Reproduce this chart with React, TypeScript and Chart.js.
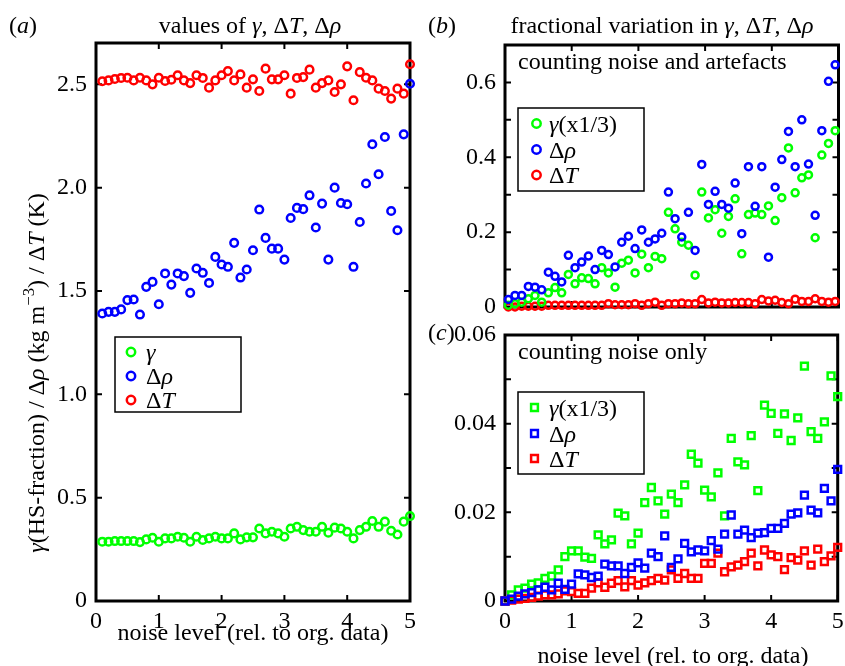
import React, { useEffect, useRef } from "react";
import { Chart, registerables } from "chart.js";
Chart.register(...registerables);

const FONT = "'Liberation Serif', 'Times New Roman', serif";
const GREEN = "#00ff00";
const BLUE = "#0000ff";
const RED = "#ff0000";

// ---------- Panel (a): values ----------
const noiseA = [0.1, 0.2, 0.3, 0.4, 0.5, 0.6, 0.7, 0.8, 0.9, 1.0, 1.1, 1.2, 1.3, 1.4, 1.5, 1.6, 1.7, 1.8, 1.9, 2.0, 2.1, 2.2, 2.3, 2.4, 2.5, 2.6, 2.7, 2.8, 2.9, 3.0, 3.1, 3.2, 3.3, 3.4, 3.5, 3.6, 3.7, 3.8, 3.9, 4.0, 4.1, 4.2, 4.3, 4.4, 4.5, 4.6, 4.7, 4.8, 4.9, 5.0];
const gammaA = [0.287, 0.287, 0.29, 0.29, 0.29, 0.29, 0.285, 0.298, 0.306, 0.287, 0.303, 0.303, 0.311, 0.306, 0.287, 0.311, 0.295, 0.303, 0.311, 0.303, 0.303, 0.327, 0.298, 0.308, 0.308, 0.351, 0.327, 0.335, 0.327, 0.311, 0.351, 0.359, 0.343, 0.335, 0.335, 0.359, 0.33, 0.355, 0.351, 0.335, 0.303, 0.343, 0.359, 0.387, 0.359, 0.384, 0.34, 0.322, 0.384, 0.411];
const drhoA = [1.391, 1.399, 1.399, 1.411, 1.456, 1.459, 1.386, 1.52, 1.544, 1.436, 1.585, 1.531, 1.585, 1.572, 1.491, 1.609, 1.588, 1.539, 1.665, 1.628, 1.617, 1.733, 1.565, 1.604, 1.697, 1.894, 1.757, 1.705, 1.705, 1.652, 1.853, 1.902, 1.896, 1.963, 1.807, 1.923, 1.652, 2.0, 1.926, 1.92, 1.617, 1.834, 2.02, 2.21, 2.065, 2.245, 1.887, 1.794, 2.258, 2.503];
const dTA = [2.515, 2.519, 2.526, 2.531, 2.532, 2.519, 2.532, 2.519, 2.5, 2.532, 2.516, 2.522, 2.544, 2.519, 2.506, 2.544, 2.531, 2.484, 2.519, 2.544, 2.564, 2.519, 2.548, 2.484, 2.524, 2.468, 2.576, 2.524, 2.524, 2.544, 2.455, 2.531, 2.535, 2.571, 2.484, 2.506, 2.519, 2.463, 2.5, 2.587, 2.423, 2.559, 2.532, 2.519, 2.479, 2.468, 2.431, 2.479, 2.455, 2.597];

// ---------- Panel (b): counting noise and artefacts ----------
const noiseB = [0.05, 0.15, 0.25, 0.35, 0.45, 0.55, 0.65, 0.75, 0.85, 0.95, 1.05, 1.15, 1.25, 1.35, 1.45, 1.55, 1.65, 1.75, 1.85, 1.95, 2.05, 2.15, 2.25, 2.35, 2.45, 2.55, 2.65, 2.75, 2.85, 2.95, 3.05, 3.15, 3.25, 3.35, 3.45, 3.55, 3.65, 3.75, 3.85, 3.95, 4.05, 4.15, 4.25, 4.35, 4.45, 4.55, 4.65, 4.75, 4.85, 4.95];
const gammaB = [0.005, 0.009, 0.013, 0.022, 0.031, 0.013, 0.038, 0.052, 0.038, 0.087, 0.062, 0.078, 0.076, 0.062, 0.105, 0.091, 0.053, 0.117, 0.125, 0.091, 0.141, 0.105, 0.135, 0.129, 0.253, 0.209, 0.173, 0.165, 0.085, 0.307, 0.238, 0.26, 0.197, 0.242, 0.289, 0.142, 0.247, 0.251, 0.247, 0.27, 0.231, 0.292, 0.425, 0.305, 0.345, 0.353, 0.185, 0.406, 0.437, 0.471];
const drhoB = [0.02, 0.031, 0.031, 0.055, 0.053, 0.046, 0.093, 0.082, 0.067, 0.138, 0.105, 0.12, 0.136, 0.1, 0.151, 0.14, 0.107, 0.173, 0.189, 0.156, 0.206, 0.173, 0.182, 0.197, 0.307, 0.236, 0.187, 0.253, 0.151, 0.381, 0.274, 0.309, 0.274, 0.264, 0.331, 0.196, 0.375, 0.269, 0.375, 0.133, 0.32, 0.394, 0.469, 0.375, 0.5, 0.382, 0.245, 0.471, 0.603, 0.647];
const dTB = [0.0, 0.0, 0.002, 0.002, 0.002, 0.002, 0.0045, 0.0045, 0.0045, 0.0045, 0.0045, 0.0045, 0.0045, 0.0045, 0.0045, 0.009, 0.006, 0.006, 0.006, 0.009, 0.0045, 0.009, 0.013, 0.0045, 0.009, 0.009, 0.011, 0.009, 0.009, 0.02, 0.011, 0.013, 0.011, 0.011, 0.012, 0.012, 0.012, 0.009, 0.02, 0.016, 0.018, 0.012, 0.009, 0.021, 0.015, 0.015, 0.022, 0.015, 0.013, 0.015];

// ---------- Panel (c): counting noise only ----------
const noiseC = [0, 0.1, 0.2, 0.3, 0.4, 0.5, 0.6, 0.7, 0.8, 0.9, 1.0, 1.1, 1.2, 1.3, 1.4, 1.5, 1.6, 1.7, 1.8, 1.9, 2.0, 2.1, 2.2, 2.3, 2.4, 2.5, 2.6, 2.7, 2.8, 2.9, 3.0, 3.1, 3.2, 3.3, 3.4, 3.5, 3.6, 3.7, 3.8, 3.9, 4.0, 4.1, 4.2, 4.3, 4.4, 4.5, 4.6, 4.7, 4.8, 4.9, 5.0];
const gammaC = [0, 0.0014, 0.0025, 0.0029, 0.0038, 0.0041, 0.0051, 0.0056, 0.007, 0.01, 0.0113, 0.0113, 0.0099, 0.0096, 0.0149, 0.0129, 0.0138, 0.0198, 0.0192, 0.0129, 0.0153, 0.0222, 0.0256, 0.0226, 0.0196, 0.0241, 0.0222, 0.0262, 0.0331, 0.0311, 0.025, 0.0235, 0.0289, 0.0192, 0.0367, 0.0314, 0.0307, 0.0373, 0.0249, 0.0442, 0.0423, 0.0378, 0.0422, 0.0362, 0.0413, 0.053, 0.0382, 0.0367, 0.0404, 0.0508, 0.0461];
const drhoC = [0, 0.0004, 0.0011, 0.0016, 0.0019, 0.0025, 0.0031, 0.0025, 0.004, 0.0026, 0.0038, 0.0061, 0.0059, 0.0053, 0.0056, 0.0083, 0.0079, 0.0079, 0.0062, 0.0076, 0.0086, 0.0074, 0.0108, 0.01, 0.0147, 0.0076, 0.0095, 0.013, 0.0111, 0.0115, 0.0113, 0.0136, 0.0117, 0.0151, 0.0194, 0.0151, 0.016, 0.0143, 0.0153, 0.0154, 0.0164, 0.0164, 0.0175, 0.0196, 0.0199, 0.0239, 0.0205, 0.0199, 0.0254, 0.0226, 0.0297];
const dTC = [0, 0.0002, 0.0004, 0.0006, 0.0008, 0.0011, 0.0014, 0.0014, 0.0016, 0.0023, 0.0021, 0.0017, 0.0017, 0.0029, 0.0041, 0.0031, 0.004, 0.0046, 0.0032, 0.0046, 0.0036, 0.0041, 0.0046, 0.0051, 0.0047, 0.007, 0.0051, 0.0062, 0.0051, 0.0051, 0.0085, 0.0085, 0.0108, 0.0066, 0.0077, 0.0081, 0.0089, 0.0108, 0.0079, 0.0115, 0.0104, 0.01, 0.0071, 0.0098, 0.0092, 0.0113, 0.0081, 0.0117, 0.0089, 0.0102, 0.0121];

type Seg = { t: string; i?: boolean; sup?: boolean };

const fontStr = (size: number, italic?: boolean) => `${italic ? "italic " : ""}${size}px ${FONT}`;

function richWidth(ctx: CanvasRenderingContext2D, segs: Seg[], size: number) {
  let w = 0;
  for (const s of segs) {
    ctx.font = fontStr(s.sup ? size * 0.7 : size, s.i);
    w += ctx.measureText(s.t).width;
  }
  return w;
}

function drawRich(ctx: CanvasRenderingContext2D, segs: Seg[], x: number, y: number, size: number, align: "left" | "center" | "right") {
  const w = richWidth(ctx, segs, size);
  let cx = align === "left" ? x : align === "center" ? x - w / 2 : x - w;
  ctx.textAlign = "left";
  ctx.textBaseline = "alphabetic";
  ctx.fillStyle = "#000";
  for (const s of segs) {
    const sz = s.sup ? size * 0.7 : size;
    ctx.font = fontStr(sz, s.i);
    ctx.fillText(s.t, cx, s.sup ? y - size * 0.4 : y);
    cx += ctx.measureText(s.t).width;
  }
}

const gTD: Seg[] = [{ t: "γ", i: true }, { t: ", Δ" }, { t: "T", i: true }, { t: ", Δ" }, { t: "ρ", i: true }];

type TextItem = { segs: Seg[]; x: number; y: number; size: number; align: "left" | "center" | "right"; rot?: boolean };
type LegendItem = { label: Seg[]; color: string };
type LegendBox = { x: number; y: number; w: number; h: number; rows: number[]; mx: number; tx: number; style: "circle" | "rect"; items: LegendItem[] };

function decoPlugin(texts: TextItem[], legend: LegendBox, markerR: number) {
  return {
    id: "deco",
    beforeDatasetsDraw(chart: any) {
      const { ctx, chartArea: a, scales } = chart;
      const xs = scales.x;
      const ys = scales.y;
      const TL = 6;
      ctx.save();
      ctx.strokeStyle = "#000";
      ctx.lineWidth = 2;
      ctx.beginPath();
      for (const t of xs.ticks) {
        const p = xs.getPixelForValue(t.value);
        ctx.moveTo(p, a.bottom);
        ctx.lineTo(p, a.bottom - TL);
        ctx.moveTo(p, a.top);
        ctx.lineTo(p, a.top + TL);
      }
      for (const t of ys.ticks) {
        const p = ys.getPixelForValue(t.value);
        ctx.moveTo(a.left, p);
        ctx.lineTo(a.left + TL, p);
        ctx.moveTo(a.right, p);
        ctx.lineTo(a.right - TL, p);
      }
      ctx.stroke();
      ctx.lineWidth = 3;
      ctx.strokeRect(a.left, a.top, a.right - a.left, a.bottom - a.top);
      ctx.restore();
    },
    afterDatasetsDraw(chart: any) {
      const { ctx } = chart;
      ctx.save();
      const L = legend;
      ctx.fillStyle = "#fff";
      ctx.fillRect(L.x, L.y, L.w, L.h);
      ctx.strokeStyle = "#000";
      ctx.lineWidth = 1.5;
      ctx.strokeRect(L.x, L.y, L.w, L.h);
      L.items.forEach((it, k) => {
        const cy = L.rows[k];
        ctx.strokeStyle = it.color;
        ctx.lineWidth = 2.5;
        ctx.beginPath();
        if (L.style === "circle") {
          ctx.arc(L.mx, cy, markerR, 0, Math.PI * 2);
        } else {
          const s = markerR * Math.SQRT1_2;
          ctx.rect(L.mx - s, cy - s, 2 * s, 2 * s);
        }
        ctx.stroke();
        drawRich(ctx, it.label, L.tx, cy + 8, 24, "left");
      });
      ctx.restore();
    },
    afterDraw(chart: any) {
      const { ctx } = chart;
      ctx.save();
      for (const t of texts) {
        if (t.rot) {
          ctx.save();
          ctx.translate(t.x, t.y);
          ctx.rotate(-Math.PI / 2);
          drawRich(ctx, t.segs, 0, 0, t.size, t.align);
          ctx.restore();
        } else {
          drawRich(ctx, t.segs, t.x, t.y, t.size, t.align);
        }
      }
      ctx.restore();
    },
  };
}

function ds(label: string, xs: number[], ys: number[], color: string, style: string, r: number, order: number) {
  return {
    label,
    data: xs.map((x, i) => ({ x, y: ys[i] })),
    showLine: false,
    pointStyle: style,
    pointRadius: r,
    pointBorderWidth: 2.5,
    pointBorderColor: color,
    pointBackgroundColor: "rgba(0,0,0,0)",
    borderWidth: 2.5,
    borderColor: color,
    backgroundColor: "rgba(0,0,0,0)",
    clip: false,
    order,
  };
}

function makeConfig(o: {
  datasets: any[];
  yMin: number; yMax: number; yStep: number; yLabel: (v: number) => string;
  yW: number; xH: number; padTop: number; padRight: number; xLabels: boolean;
  plugin: any;
}) {
  return {
    type: "scatter",
    data: { datasets: o.datasets },
    options: {
      animation: false,
      responsive: false,
      maintainAspectRatio: false,
      events: [],
      layout: { padding: { left: 0, top: o.padTop, right: o.padRight, bottom: 0 } },
      plugins: { legend: { display: false }, title: { display: false }, tooltip: { enabled: false } },
      scales: {
        x: {
          type: "linear",
          position: "bottom",
          min: 0,
          max: 5,
          grid: { display: false, drawTicks: false },
          border: { display: false },
          afterFit: (s: any) => {
            s.height = o.xH;
            s.paddingLeft = 0; s.paddingRight = 0; s.paddingTop = 0; s.paddingBottom = 0;
          },
          ticks: {
            display: o.xLabels,
            stepSize: 1,
            includeBounds: false,
            autoSkip: false,
            maxRotation: 0,
            padding: 6,
            color: "#000",
            font: { family: FONT, size: 24 },
            callback: (v: number) => String(Math.round(v)),
          },
        },
        y: {
          type: "linear",
          position: "left",
          min: o.yMin,
          max: o.yMax,
          grid: { display: false, drawTicks: false },
          border: { display: false },
          afterFit: (s: any) => {
            s.width = o.yW;
            s.paddingLeft = 0; s.paddingRight = 0; s.paddingTop = 0; s.paddingBottom = 0;
          },
          ticks: {
            stepSize: o.yStep,
            includeBounds: false,
            autoSkip: false,
            padding: 9,
            color: "#000",
            font: { family: FONT, size: 24 },
            callback: (v: number) => o.yLabel(v),
          },
        },
      },
    },
    plugins: [o.plugin],
  };
}

export default function App() {
  const refA = useRef<HTMLCanvasElement>(null);
  const refB = useRef<HTMLCanvasElement>(null);
  const refC = useRef<HTMLCanvasElement>(null);

  useEffect(() => {
    const legendA: LegendBox = {
      x: 115, y: 337, w: 126, h: 75, rows: [352, 376, 400], mx: 131, tx: 146, style: "circle",
      items: [
        { label: [{ t: "γ", i: true }], color: GREEN },
        { label: [{ t: "Δ" }, { t: "ρ", i: true }], color: BLUE },
        { label: [{ t: "Δ" }, { t: "T", i: true }], color: RED },
      ],
    };
    const textsA: TextItem[] = [
      { segs: [{ t: "(" }, { t: "a", i: true }, { t: ")" }], x: 9, y: 33, size: 24, align: "left" },
      { segs: [{ t: "values of " }, ...gTD], x: 250, y: 33, size: 24, align: "center" },
      { segs: [{ t: "noise level (rel. to org. data)" }], x: 253, y: 640, size: 24, align: "center" },
      {
        segs: [{ t: "γ", i: true }, { t: "(HS-fraction) / Δ" }, { t: "ρ", i: true }, { t: " (kg m" }, { t: "−3", sup: true }, { t: ") / Δ" }, { t: "T", i: true }, { t: " (K)" }],
        x: 44, y: 373, size: 24, align: "center", rot: true,
      },
    ];
    const cfgA = makeConfig({
      datasets: [
        ds("γ", noiseA, gammaA, GREEN, "circle", 3.8, 3),
        ds("Δρ", noiseA, drhoA, BLUE, "circle", 3.8, 1),
        ds("ΔT", noiseA, dTA, RED, "circle", 3.8, 2),
      ],
      yMin: 0, yMax: 2.7, yStep: 0.5,
      yLabel: (v) => (Math.abs(v) < 1e-9 ? "0" : v.toFixed(1)),
      yW: 96, xH: 65, padTop: 43, padRight: 30, xLabels: true,
      plugin: decoPlugin(textsA, legendA, 4.2),
    });

    const legendB: LegendBox = {
      x: 98, y: 108, w: 126, h: 83, rows: [123.5, 149.5, 175], mx: 116.5, tx: 129, style: "circle",
      items: [
        { label: [{ t: "γ", i: true }, { t: "(x1/3)" }], color: GREEN },
        { label: [{ t: "Δ" }, { t: "ρ", i: true }], color: BLUE },
        { label: [{ t: "Δ" }, { t: "T", i: true }], color: RED },
      ],
    };
    const textsB: TextItem[] = [
      { segs: [{ t: "(" }, { t: "b", i: true }, { t: ")" }], x: 8, y: 33, size: 24, align: "left" },
      { segs: [{ t: "fractional variation in " }, ...gTD], x: 242, y: 33, size: 24, align: "center" },
      { segs: [{ t: "counting noise and artefacts" }], x: 98, y: 69, size: 24, align: "left" },
    ];
    const cfgB = makeConfig({
      datasets: [
        ds("γ(x1/3)", noiseB, gammaB, GREEN, "circle", 3.5, 2),
        ds("Δρ", noiseB, drhoB, BLUE, "circle", 3.5, 1),
        ds("ΔT", noiseB, dTB, RED, "circle", 3.5, 3),
      ],
      yMin: 0, yMax: 0.7, yStep: 0.1,
      yLabel: (v) => {
        const k = Math.round(v * 10);
        if (k % 2 !== 0 || k > 6) return "";
        return k === 0 ? "0" : (k / 10).toFixed(1);
      },
      yW: 85, xH: 11, padTop: 45, padRight: 4, xLabels: false,
      plugin: decoPlugin(textsB, legendB, 4.2),
    });

    const legendC: LegendBox = {
      x: 98, y: 74, w: 126, h: 82, rows: [89.5, 115.5, 140.5], mx: 114.5, tx: 129, style: "rect",
      items: [
        { label: [{ t: "γ", i: true }, { t: "(x1/3)" }], color: GREEN },
        { label: [{ t: "Δ" }, { t: "ρ", i: true }], color: BLUE },
        { label: [{ t: "Δ" }, { t: "T", i: true }], color: RED },
      ],
    };
    const textsC: TextItem[] = [
      { segs: [{ t: "(" }, { t: "c", i: true }, { t: ")" }], x: 8, y: 22, size: 24, align: "left" },
      { segs: [{ t: "counting noise only" }], x: 98, y: 41, size: 24, align: "left" },
      { segs: [{ t: "noise level (rel. to org. data)" }], x: 253, y: 345, size: 24, align: "center" },
    ];
    const cfgC = makeConfig({
      datasets: [
        ds("γ(x1/3)", noiseC, gammaC, GREEN, "rect", 4.8, 3),
        ds("Δρ", noiseC, drhoC, BLUE, "rect", 4.8, 1),
        ds("ΔT", noiseC, dTC, RED, "rect", 4.8, 2),
      ],
      yMin: 0, yMax: 0.06, yStep: 0.01,
      yLabel: (v) => {
        const k = Math.round(v * 100);
        if (k % 2 !== 0) return "";
        return k === 0 ? "0" : (k / 100).toFixed(2);
      },
      yW: 85, xH: 65, padTop: 17, padRight: 4, xLabels: true,
      plugin: decoPlugin(textsC, legendC, 4.8),
    });

    const charts = [
      new Chart(refA.current as HTMLCanvasElement, cfgA as any),
      new Chart(refB.current as HTMLCanvasElement, cfgB as any),
      new Chart(refC.current as HTMLCanvasElement, cfgC as any),
    ];
    return () => charts.forEach((c) => c.destroy());
  }, []);

  return (
    <div style={{ position: "fixed", left: 0, top: 0, width: 845, height: 666, overflow: "hidden", background: "#fff" }}>
      <canvas ref={refA} width={440} height={666} style={{ position: "absolute", left: 0, top: 0 }} />
      <canvas ref={refB} width={425} height={318} style={{ position: "absolute", left: 420, top: 0 }} />
      <canvas ref={refC} width={425} height={348} style={{ position: "absolute", left: 420, top: 318 }} />
    </div>
  );
}
